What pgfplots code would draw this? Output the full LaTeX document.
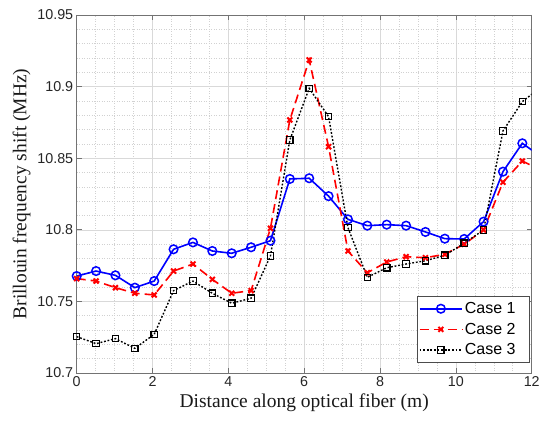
\documentclass[border=0pt]{standalone}
\usepackage{fontspec}
\setmainfont{Liberation Sans}
\newfontfamily\timesfont{Liberation Serif}
\usepackage{pgfplots}
\pgfplotsset{compat=1.18}
\usetikzlibrary{calc}

\pgfplotstableread{
x      c1       c2       c3
0.000  10.7677  10.7659  10.7254
0.511  10.7712  10.7642  10.7205
1.022  10.7682  10.7596  10.7240
1.533  10.7596  10.7557  10.7172
2.044  10.7642  10.7545  10.7270
2.555  10.7864  10.7712  10.7575
3.066  10.7912  10.7761  10.7642
3.577  10.7852  10.7654  10.7557
4.088  10.7836  10.7557  10.7487
4.599  10.7878  10.7575  10.7522
5.110  10.7924  10.8010  10.7817
5.621  10.8355  10.8767  10.8627
6.132  10.8360  10.9186  10.8988
6.643  10.8235  10.8580  10.8790
7.154  10.8073  10.7852  10.8015
7.665  10.8029  10.7700  10.7668
8.176  10.8036  10.7775  10.7735
8.687  10.8029  10.7812  10.7761
9.198  10.7985  10.7805  10.7784
9.709  10.7938  10.7829  10.7822
10.220 10.7936  10.7899  10.7906
10.731 10.8057  10.7999  10.7999
11.242 10.8406  10.8332  10.8690
11.753 10.8604  10.8480  10.8895
12.264 10.8507  10.8414  10.9001
}\fiber

\begin{document}
\begin{tikzpicture}
\begin{axis}[
    name=ax,
    scale only axis,
    width=455bp, height=358bp,
    xmin=0, xmax=12, ymin=10.7, ymax=10.95,
    xtick={0,2,4,6,8,10,12},
    ytick={10.7,10.75,10.8,10.85,10.9,10.95},
    yticklabels={10.7,10.75,10.8,10.85,10.9,10.95},
    minor x tick num=3, minor y tick num=4,
    grid=both,
    major grid style={black!15, line width=0.5bp},
    minor grid style={black!18, line width=0.5bp, dotted},
    tick align=inside,
    major tick length=5bp, minor tick length=0bp,
    axis line style={black!55, line width=0.6bp},
    tick style={black!55, line width=0.6bp},
    /pgf/number format/assume math mode=true,
    tick label style={font=\fontsize{14.3bp}{16bp}\selectfont, text=black!85},
    label style={font=\timesfont\fontsize{19.5bp}{22bp}\selectfont, text=black!90},
    xlabel={Distance along optical fiber (m)},
    ylabel={Brillouin frequency shift (MHz)},
    legend style={at={(0.996,0.029)}, anchor=south east,
      font=\fontsize{16bp}{19bp}\selectfont, draw=black!70,
      line width=0.5bp, inner xsep=2bp, inner ysep=4bp, row sep=4bp},
    legend cell align=left,
    legend image code/.code={\draw[mark repeat=2,mark phase=2]
      plot coordinates {(0cm,0cm) (0.75cm,0cm) (1.5cm,0cm)};},
]
\addplot[blue, line width=1.6bp, mark=o, mark size=4.3bp,
  mark options={solid, line width=1.5bp}] table[x=x, y=c1] {\fiber};
\addplot[red, line width=1.6bp, dash pattern=on 9bp off 5bp, mark=x, mark size=3.5bp,
  mark options={solid, line width=2bp}] table[x=x, y=c2] {\fiber};
\addplot[black, line width=1.4bp, dash pattern=on 1.8bp off 1.8bp, mark=square, mark size=3.2bp,
  mark options={solid, line width=1.2bp}] table[x=x, y=c3] {\fiber};
\legend{Case 1\hspace*{10bp}, Case 2\hspace*{10bp}, Case 3\hspace*{10bp}}
\end{axis}
\pgfresetboundingbox
\path ($(ax.south west)+(-76.7bp,-48bp)$) rectangle ($(ax.north east)+(13.3bp,15bp)$);
\end{tikzpicture}
\end{document}
